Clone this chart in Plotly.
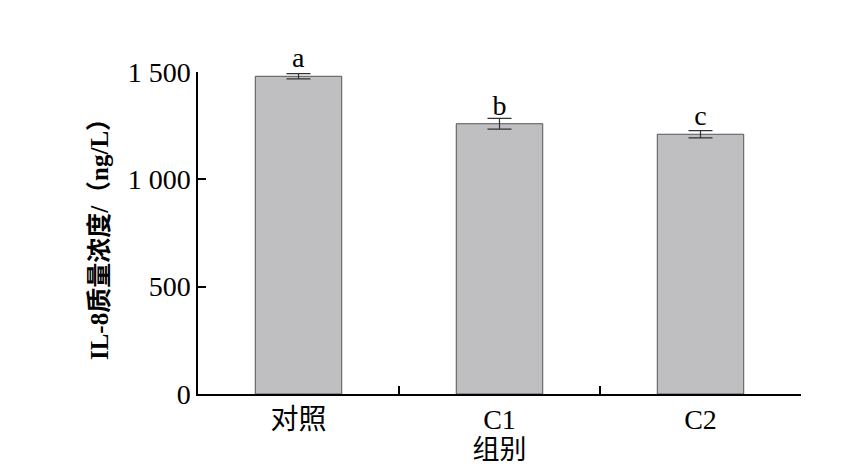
import plotly.graph_objects as go

categories = ["对照", "C1", "C2"]
values = [1480, 1259, 1210]
errors = [12, 25, 17]
letters = ["a", "b", "c"]
yticks = [0, 500, 1000, 1500]
yticklabels = ["0", "500", "1 000", "1 500"]

FONT = "Liberation Serif, Noto Sans CJK SC"
xs = list(range(len(categories)))

fig = go.Figure()
fig.add_trace(go.Bar(
    x=xs, y=values, width=0.43,
    marker=dict(color="#bfbfc1", line=dict(color="#555555", width=1)),
    error_y=dict(type="data", array=errors, color="#333333", thickness=1.2, width=12),
    text=letters, textposition="outside", cliponaxis=False,
    textfont=dict(family=FONT, size=28, color="black"),
))
fig.add_trace(go.Scatter(x=[0.5, 1.5, 2.5], y=[0, 0, 0], xaxis="x2", mode="markers",
                         marker=dict(opacity=0), showlegend=False, hoverinfo="skip"))
fig.update_layout(
    width=850, height=466, plot_bgcolor="white", paper_bgcolor="white",
    margin=dict(l=190, r=57, t=64, b=80), showlegend=False,
    font=dict(family=FONT, size=28, color="black"),
    xaxis=dict(range=[-0.5, 2.5], tickvals=xs, ticktext=categories, ticks="",
               showline=True, linecolor="black", linewidth=1.5,
               title=dict(text="组别", font=dict(size=27), standoff=2), showgrid=False),
    xaxis2=dict(range=[-0.5, 2.5], overlaying="x", tickvals=[0.5, 1.5, 2.5],
                ticks="inside", ticklen=8, tickwidth=1.5, tickcolor="black",
                showticklabels=False, showline=False, showgrid=False, side="bottom"),
    yaxis=dict(range=[0, 1500], tickvals=yticks, ticktext=yticklabels,
               ticks="inside", ticklen=8, tickwidth=1.5, tickcolor="black",
               showline=True, linecolor="black", linewidth=1.5, showgrid=False,
               zeroline=False,
               title=dict(text="<b>IL-8质量浓度/（ng/L）</b>", font=dict(size=25), standoff=12)),
)
fig.write_html("out.html")
